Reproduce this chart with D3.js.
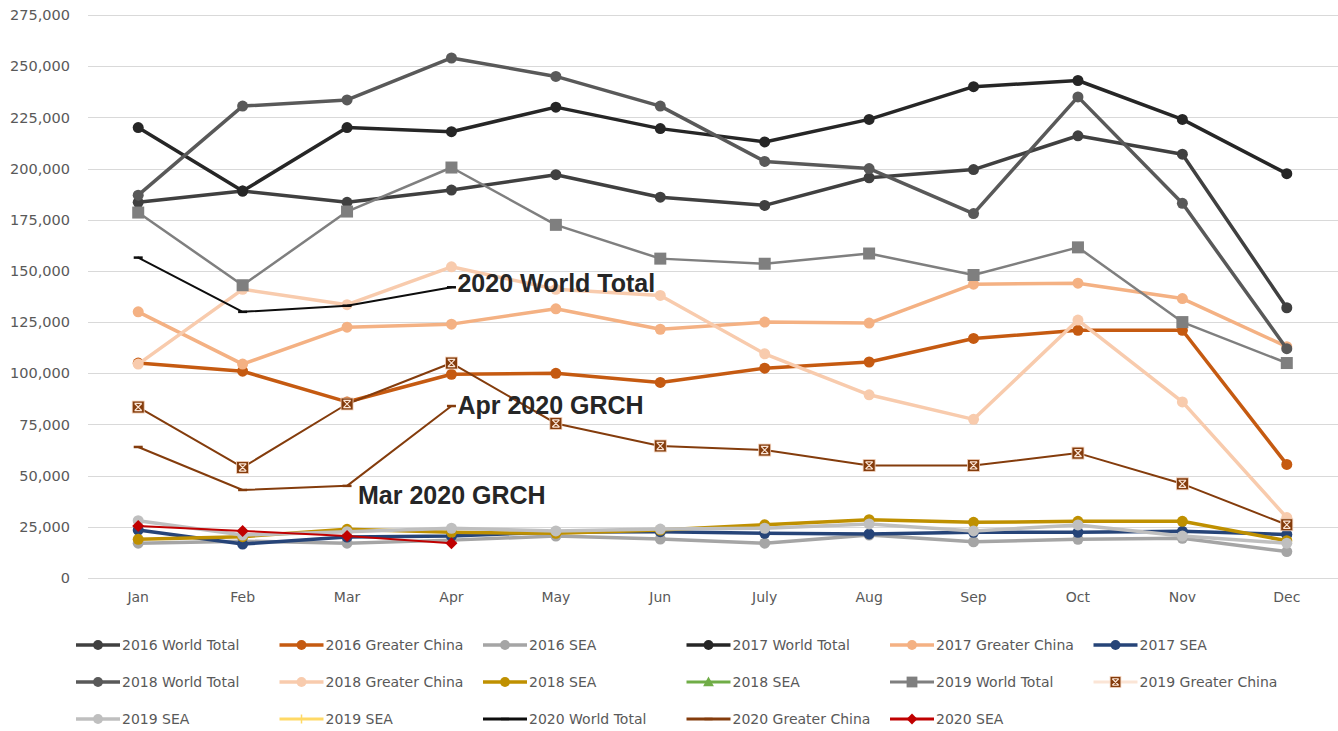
<!DOCTYPE html>
<html>
<head>
<meta charset="utf-8">
<script src="https://cdn.jsdelivr.net/npm/d3@7"></script>
<style>
  html, body { margin: 0; padding: 0; background: #fff; }
  svg { display: block; }
</style>
</head>
<body>
<svg id="chart" width="1338" height="731"></svg>
<script>
// ---------- DATA ----------
const months = ["Jan","Feb","Mar","Apr","May","Jun","July","Aug","Sep","Oct","Nov","Dec"];
const yTicks = [0,25000,50000,75000,100000,125000,150000,175000,200000,225000,250000,275000];

const wt2016 = [183500,189000,183500,189500,197000,186000,182000,195500,199500,216000,207000,132000];
const gc2016 = [105000,101000,86000,99500,100000,95500,102500,105500,117000,121000,121000,55500];
const sea2016 = [17000,18000,17000,18500,20500,19000,17000,21000,17700,18900,19400,12900];
const wt2017 = [220000,189000,220000,218000,230000,219500,213000,224000,240000,243000,224000,197500];
const gc2017 = [130000,104500,122500,124000,131500,121500,125000,124500,143500,144000,136500,113000];
const sea2017 = [23400,16600,20000,20500,22500,22600,21800,21500,22300,22300,22800,21300];
const wt2018 = [187000,230500,233500,254000,245000,230500,203500,200000,178000,235000,183000,112000];
const gc2018 = [104500,141000,133500,152000,141000,138000,109500,89500,77500,126000,86000,29500];
const sea2018 = [18900,20200,23800,22300,21800,23400,26000,28500,27200,27700,27700,18200];
const sea2018b = [];
const wt2019 = [178500,143000,179000,200500,172500,156000,153500,158500,148000,161500,125000,105000];
const gc2019 = [83500,54000,85000,105000,75500,64500,62500,55000,55000,61000,46000,26000];
const sea2019 = [28000,21000,22600,24300,23000,23900,24300,26400,23000,25900,20500,17000];
const sea2019b = [];
const wt2020 = [156500,130000,133000,142000];
const gc2020 = [64000,43000,45000,84000];
const sea2020 = [25400,23000,20500,17000];

const seriesNames = ["2016 World Total","2016 Greater China","2016 SEA","2017 World Total","2017 Greater China","2017 SEA",
  "2018 World Total","2018 Greater China","2018 SEA","2018 SEA","2019 World Total","2019 Greater China",
  "2019 SEA","2019 SEA","2020 World Total","2020 Greater China","2020 SEA"];
const seriesValues = [wt2016,gc2016,sea2016,wt2017,gc2017,sea2017,wt2018,gc2018,sea2018,sea2018b,wt2019,gc2019,sea2019,sea2019b,wt2020,gc2020,sea2020];

const annotations = [
  {text:"2020 World Total", month:"Apr", value:142000},
  {text:"Apr 2020 GRCH", month:"Apr", value:84000},
  {text:"Mar 2020 GRCH", month:"Mar", value:45000}
];

// ---------- STYLES ----------
const styles = [
  {color:"#404040", width:3.5, marker:"circle", mcolor:"#404040"},
  {color:"#c55a11", width:3.5, marker:"circle", mcolor:"#c55a11"},
  {color:"#a5a5a5", width:3.5, marker:"circle", mcolor:"#a5a5a5"},
  {color:"#262626", width:3.5, marker:"circle", mcolor:"#262626"},
  {color:"#f4b183", width:3.5, marker:"circle", mcolor:"#f4b183"},
  {color:"#264478", width:3.5, marker:"circle", mcolor:"#264478"},
  {color:"#595959", width:3.5, marker:"circle", mcolor:"#595959"},
  {color:"#f8cbad", width:3.5, marker:"circle", mcolor:"#f8cbad"},
  {color:"#bf9000", width:3.5, marker:"circle", mcolor:"#bf9000"},
  {color:"#70ad47", width:2.5, marker:"triangle", mcolor:"#70ad47"},
  {color:"#7f7f7f", width:2.5, marker:"square", mcolor:"#7f7f7f"},
  {color:"#843c0c", width:2, marker:"xsquare", mcolor:"#843c0c", legendColor:"#fbe5d6"},
  {color:"#bfbfbf", width:3.5, marker:"circle", mcolor:"#bfbfbf"},
  {color:"#ffd966", width:2, marker:"plus", mcolor:"#ffd966"},
  {color:"#0d0d0d", width:2, marker:"dash", mcolor:"#0d0d0d"},
  {color:"#843c0c", width:2, marker:"dash", mcolor:"#843c0c"},
  {color:"#c00000", width:2, marker:"diamond", mcolor:"#c00000"}
];

// ---------- LAYOUT ----------
const svg = d3.select("#chart");
const plotLeft = 86, plotRight = 1339, plotTop = 15, plotBottom = 578;

const x = d3.scaleBand().domain(months).range([plotLeft, plotRight]);
const xc = m => x(m) + x.bandwidth() / 2;
const y = d3.scaleLinear().domain([0, 275000]).range([plotBottom, plotTop]);

const fontAxis = "'DejaVu Sans', sans-serif";

// gridlines
svg.append("g").selectAll("line").data(yTicks).join("line")
  .attr("x1", 88).attr("x2", 1338)
  .attr("y1", d => Math.round(y(d)) + 0.5).attr("y2", d => Math.round(y(d)) + 0.5)
  .attr("stroke", "#d9d9d9").attr("stroke-width", 1);

// y axis labels
const yAxis = d3.axisLeft(y).tickValues(yTicks).tickFormat(d3.format(",")).tickSize(0).tickPadding(0);
const gy = svg.append("g").attr("transform", "translate(70,0)").call(yAxis);
gy.select(".domain").remove();
gy.selectAll("text").attr("font-family", fontAxis).attr("font-size", 14.5).attr("fill", "#595959");

// x axis labels
const xAxis = d3.axisBottom(x).tickSize(0).tickPadding(0);
const gx = svg.append("g").attr("transform", "translate(0,592)").call(xAxis);
gx.select(".domain").remove();
gx.selectAll("text").attr("font-family", fontAxis).attr("font-size", 14).attr("fill", "#595959");

// marker drawing
function drawMarker(g, type, cx, cy, color, scale) {
  const s = scale || 1;
  if (type === "circle") {
    g.append("circle").attr("cx", cx).attr("cy", cy).attr("r", 5.5 * s).attr("fill", color);
  } else if (type === "square") {
    g.append("rect").attr("x", cx - 6 * s).attr("y", cy - 6 * s).attr("width", 12 * s).attr("height", 12 * s).attr("fill", color);
  } else if (type === "xsquare") {
    const h = 6 * s;
    g.append("rect").attr("x", cx - h).attr("y", cy - h).attr("width", 2 * h).attr("height", 2 * h).attr("fill", color)
      .attr("stroke", "#f4d3bd").attr("stroke-width", 0.8);
    const k = 3.6 * s;
    g.append("path").attr("d", `M${cx - k},${cy - k}L${cx + k},${cy + k}M${cx + k},${cy - k}L${cx - k},${cy + k}M${cx - k},${cy - k}H${cx + k}M${cx - k},${cy + k}H${cx + k}`)
      .attr("stroke", "#fbe5d6").attr("stroke-width", 1.2).attr("fill", "none");
  } else if (type === "diamond") {
    const h = 6 * s;
    g.append("path").attr("d", `M${cx},${cy - h}L${cx + h},${cy}L${cx},${cy + h}L${cx - h},${cy}Z`).attr("fill", color);
  } else if (type === "triangle") {
    const h = 6 * s;
    g.append("path").attr("d", `M${cx},${cy - h}L${cx + h},${cy + h * 0.8}L${cx - h},${cy + h * 0.8}Z`).attr("fill", color);
  } else if (type === "plus") {
    const h = 5 * s;
    g.append("path").attr("d", `M${cx - h},${cy}H${cx + h}M${cx},${cy - h}V${cy + h}`).attr("stroke", color).attr("stroke-width", 1.5);
  } else if (type === "dash") {
    const h = 4.5 * s;
    g.append("line").attr("x1", cx - h).attr("x2", cx + h).attr("y1", cy).attr("y2", cy).attr("stroke", color).attr("stroke-width", 2.5);
  }
}

// series
const line = d3.line().x(d => xc(d.m)).y(d => y(d.v));
const plot = svg.append("g");
seriesValues.forEach((vals, i) => {
  const st = styles[i];
  const pts = vals.map((v, j) => ({m: months[j], v}));
  if (!pts.length) return;
  const g = plot.append("g");
  g.append("path").datum(pts).attr("d", line).attr("fill", "none")
    .attr("stroke", st.color).attr("stroke-width", st.width)
    .attr("stroke-linejoin", "round").attr("stroke-linecap", "round");
  pts.forEach(p => drawMarker(g, st.marker, xc(p.m), y(p.v), st.mcolor));
});

// annotations
const annPos = [
  {dx: 6, baseline: 292},
  {dx: 6, baseline: 414},
  {dx: 11, baseline: 504}
];
annotations.forEach((a, i) => {
  svg.append("text")
    .attr("x", xc(a.month) + annPos[i].dx)
    .attr("y", annPos[i].baseline)
    .attr("font-family", "'Liberation Sans', Arial, sans-serif")
    .attr("font-weight", "bold").attr("font-size", 25).attr("fill", "#262626")
    .text(a.text);
});

// legend
const legend = svg.append("g");
const colX = [76, 279.5, 483, 686.5, 890, 1093.5];
const rowY = [645, 682, 719];
seriesNames.forEach((name, i) => {
  const col = i % 6, row = Math.floor(i / 6);
  const lx = colX[col], ly = rowY[row];
  const st = styles[i];
  const g = legend.append("g");
  g.append("line").attr("x1", lx).attr("x2", lx + 44).attr("y1", ly).attr("y2", ly)
    .attr("stroke", st.legendColor || st.color).attr("stroke-width", Math.max(st.width, 3));
  drawMarker(g, st.marker, lx + 22, ly, st.mcolor, 0.9);
  g.append("text").attr("x", lx + 46).attr("y", ly + 5)
    .attr("font-family", fontAxis).attr("font-size", 14).attr("fill", "#595959")
    .text(name);
});
</script>
</body>
</html>
